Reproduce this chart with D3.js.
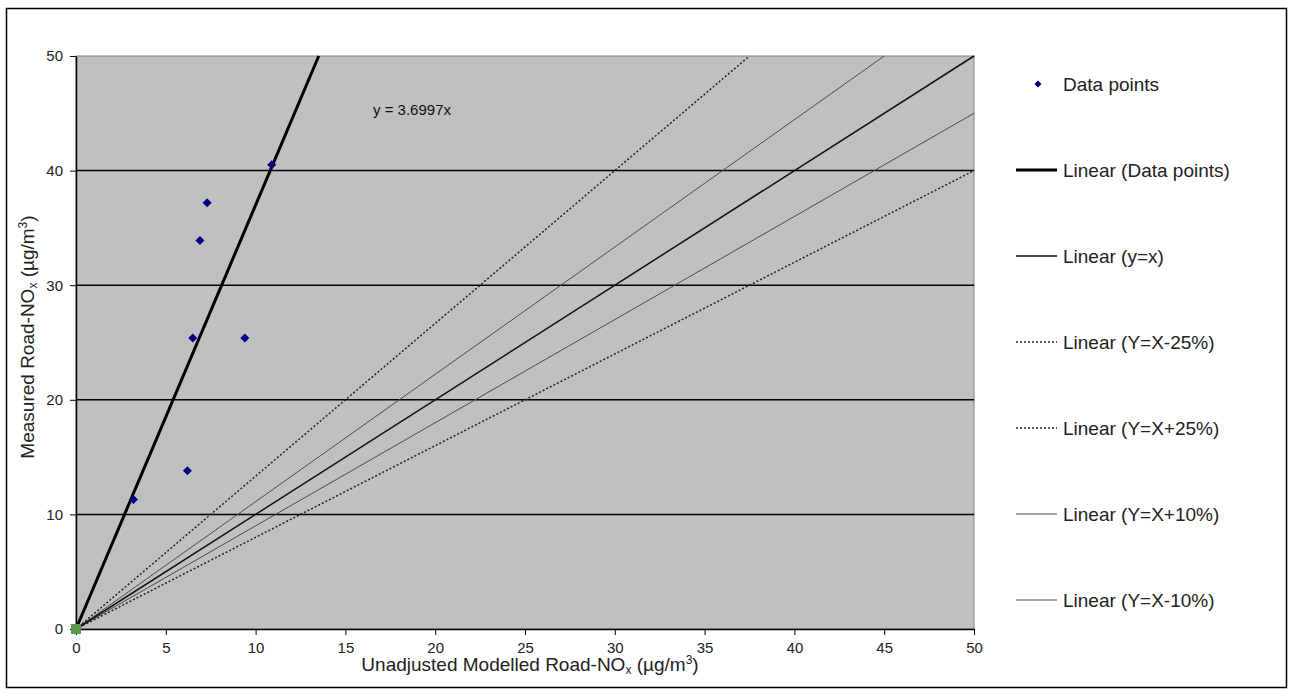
<!DOCTYPE html>
<html>
<head>
<meta charset="utf-8">
<script src="https://cdn.jsdelivr.net/npm/d3@7"></script>
<style>
  body { margin: 0; background: #fff; }
  svg { font-family: "Liberation Sans", Arial, sans-serif; }
</style>
</head>
<body>
<svg id="chart"></svg>
<script>
const svgWidth = 1293;
const svgHeight = 690;

// data
const pointX = [3.2, 6.2, 6.5, 9.4, 6.9, 7.3, 10.9];
const pointY = [11.3, 13.8, 25.4, 25.4, 33.9, 37.2, 40.5];
const originPoint = [0, 0];
const trendSlope = 3.6997;
const xTicks = [0, 5, 10, 15, 20, 25, 30, 35, 40, 45, 50];
const yTicks = [0, 10, 20, 30, 40, 50];
const lineNames = ["Linear (Data points)", "Linear (y=x)", "Linear (Y=X-25%)", "Linear (Y=X+25%)", "Linear (Y=X+10%)", "Linear (Y=X-10%)"];
const lineEndX = [50 / trendSlope, 50, 50, 37.5, 45, 50];
const lineEndY = [50, 50, 40, 50, 50, 45];
const lineKind = ["trend", "unity", "dot", "dot", "thin", "thin"];

const margin = {left: 76, right: 974, top: 56, bottom: 629};

const svg = d3.select("#chart")
  .attr("width", svgWidth)
  .attr("height", svgHeight);

const xScale = d3.scaleLinear().domain([0, 50]).range([margin.left, margin.right]);
const yScale = d3.scaleLinear().domain([0, 50]).range([margin.bottom, margin.top]);

// outer frame
svg.append("rect")
  .attr("x", 6.5).attr("y", 8.5)
  .attr("width", 1280).attr("height", 679)
  .attr("fill", "#fff")
  .attr("stroke", "#000")
  .attr("stroke-width", 1.5);

// plot area
svg.append("rect")
  .attr("x", margin.left).attr("y", margin.top)
  .attr("width", margin.right - margin.left)
  .attr("height", margin.bottom - margin.top)
  .attr("fill", "#c0c0c0")
  .attr("stroke", "#808080");

// gridlines
svg.append("g")
  .selectAll("line")
  .data(yTicks.filter(d => d > 0 && d < 50))
  .enter()
  .append("line")
  .attr("x1", margin.left).attr("x2", margin.right)
  .attr("y1", d => yScale(d)).attr("y2", d => yScale(d))
  .attr("stroke", "#000")
  .attr("stroke-width", 1.5);

const styles = {
  trend: {stroke: "#000", width: 3, dash: null},
  unity: {stroke: "#111", width: 1.5, dash: null},
  dot: {stroke: "#222", width: 1.5, dash: "2,2"},
  thin: {stroke: "#4a4a4a", width: 1, dash: null}
};

const lines = lineNames.map((name, i) => ({name, x: lineEndX[i], y: lineEndY[i], kind: lineKind[i]}));

// reference lines, trend drawn last so it is on top
svg.append("g")
  .selectAll("line")
  .data(lines.slice().reverse())
  .enter()
  .append("line")
  .attr("x1", xScale(0)).attr("y1", yScale(0))
  .attr("x2", d => xScale(d.x)).attr("y2", d => yScale(d.y))
  .attr("stroke", d => styles[d.kind].stroke)
  .attr("stroke-width", d => styles[d.kind].width)
  .attr("stroke-dasharray", d => styles[d.kind].dash);

// axes
const xAxis = d3.axisBottom(xScale).tickValues(xTicks).tickSize(6).tickSizeOuter(0);
const yAxis = d3.axisLeft(yScale).tickValues(yTicks).tickSize(6).tickSizeOuter(0);

const gx = svg.append("g")
  .attr("transform", `translate(0, ${margin.bottom})`)
  .call(xAxis);
const gy = svg.append("g")
  .attr("transform", `translate(${margin.left}, 0)`)
  .call(yAxis);

[gx, gy].forEach(g => {
  g.select(".domain").attr("stroke", "#000").attr("stroke-width", 1.5);
  g.selectAll(".tick line").attr("stroke", "#000");
  g.selectAll(".tick text")
    .attr("font-size", 15)
    .attr("font-family", "Liberation Sans, Arial, sans-serif")
    .attr("fill", "#222");
});
gx.selectAll(".tick text").attr("y", 13).attr("dy", "0.71em");
gy.selectAll(".tick text").attr("x", -13);

// origin marker
svg.append("rect")
  .attr("x", xScale(originPoint[0]) - 5)
  .attr("y", yScale(originPoint[1]) - 5)
  .attr("width", 10).attr("height", 10)
  .attr("fill", "#5a9a4a");

// data points, a square turned 45 degrees
const marker = "M0,-4.5L4.5,0L0,4.5L-4.5,0Z";
svg.append("g")
  .selectAll("path")
  .data(pointX.map((x, i) => [x, pointY[i]]))
  .enter()
  .append("path")
  .attr("d", marker)
  .attr("transform", d => `translate(${xScale(d[0])}, ${yScale(d[1])})`)
  .attr("fill", "#000080");

// equation label
svg.append("text")
  .text(`y = ${trendSlope}x`)
  .attr("x", 373)
  .attr("y", 115)
  .attr("font-size", 15)
  .attr("fill", "#111");

// x axis title
const xTitle = svg.append("text")
  .attr("x", 530)
  .attr("y", 671)
  .attr("text-anchor", "middle")
  .attr("font-size", 19)
  .attr("fill", "#222");
xTitle.append("tspan").text("Unadjusted Modelled Road-NO");
xTitle.append("tspan").text("x").attr("font-size", 12).attr("dy", 3);
xTitle.append("tspan").text(" (µg/m").attr("dy", -3);
xTitle.append("tspan").text("3").attr("font-size", 12).attr("dy", -7);
xTitle.append("tspan").text(")").attr("dy", 7);

// y axis title
const yTitle = svg.append("text")
  .attr("transform", `translate(34, 337) rotate(-90)`)
  .attr("text-anchor", "middle")
  .attr("font-size", 19)
  .attr("fill", "#222");
yTitle.append("tspan").text("Measured Road-NO");
yTitle.append("tspan").text("x").attr("font-size", 12).attr("dy", 3);
yTitle.append("tspan").text(" (µg/m").attr("dy", -3);
yTitle.append("tspan").text("3").attr("font-size", 12).attr("dy", -7);
yTitle.append("tspan").text(")").attr("dy", 7);

// legend
const legendY = d3.scalePoint()
  .domain(["Data points"].concat(lineNames))
  .range([84, 600]);

const legend = svg.append("g");
legend.append("path")
  .attr("d", "M0,-3.5L3.5,0L0,3.5L-3.5,0Z")
  .attr("transform", `translate(1038, ${legendY("Data points")})`)
  .attr("fill", "#000080");
legend.append("text")
  .text("Data points")
  .attr("x", 1063)
  .attr("y", legendY("Data points"))
  .attr("dy", "0.35em")
  .attr("font-size", 19)
  .attr("fill", "#222");

const items = legend.selectAll(".item")
  .data(lines)
  .enter()
  .append("g")
  .classed("item", true);

items.append("line")
  .attr("x1", 1016).attr("x2", 1057)
  .attr("y1", d => legendY(d.name)).attr("y2", d => legendY(d.name))
  .attr("stroke", d => styles[d.kind].stroke)
  .attr("stroke-width", d => styles[d.kind].width)
  .attr("stroke-dasharray", d => styles[d.kind].dash);

items.append("text")
  .text(d => d.name)
  .attr("x", 1063)
  .attr("y", d => legendY(d.name))
  .attr("dy", "0.35em")
  .attr("font-size", 19)
  .attr("fill", "#222");
</script>
</body>
</html>
